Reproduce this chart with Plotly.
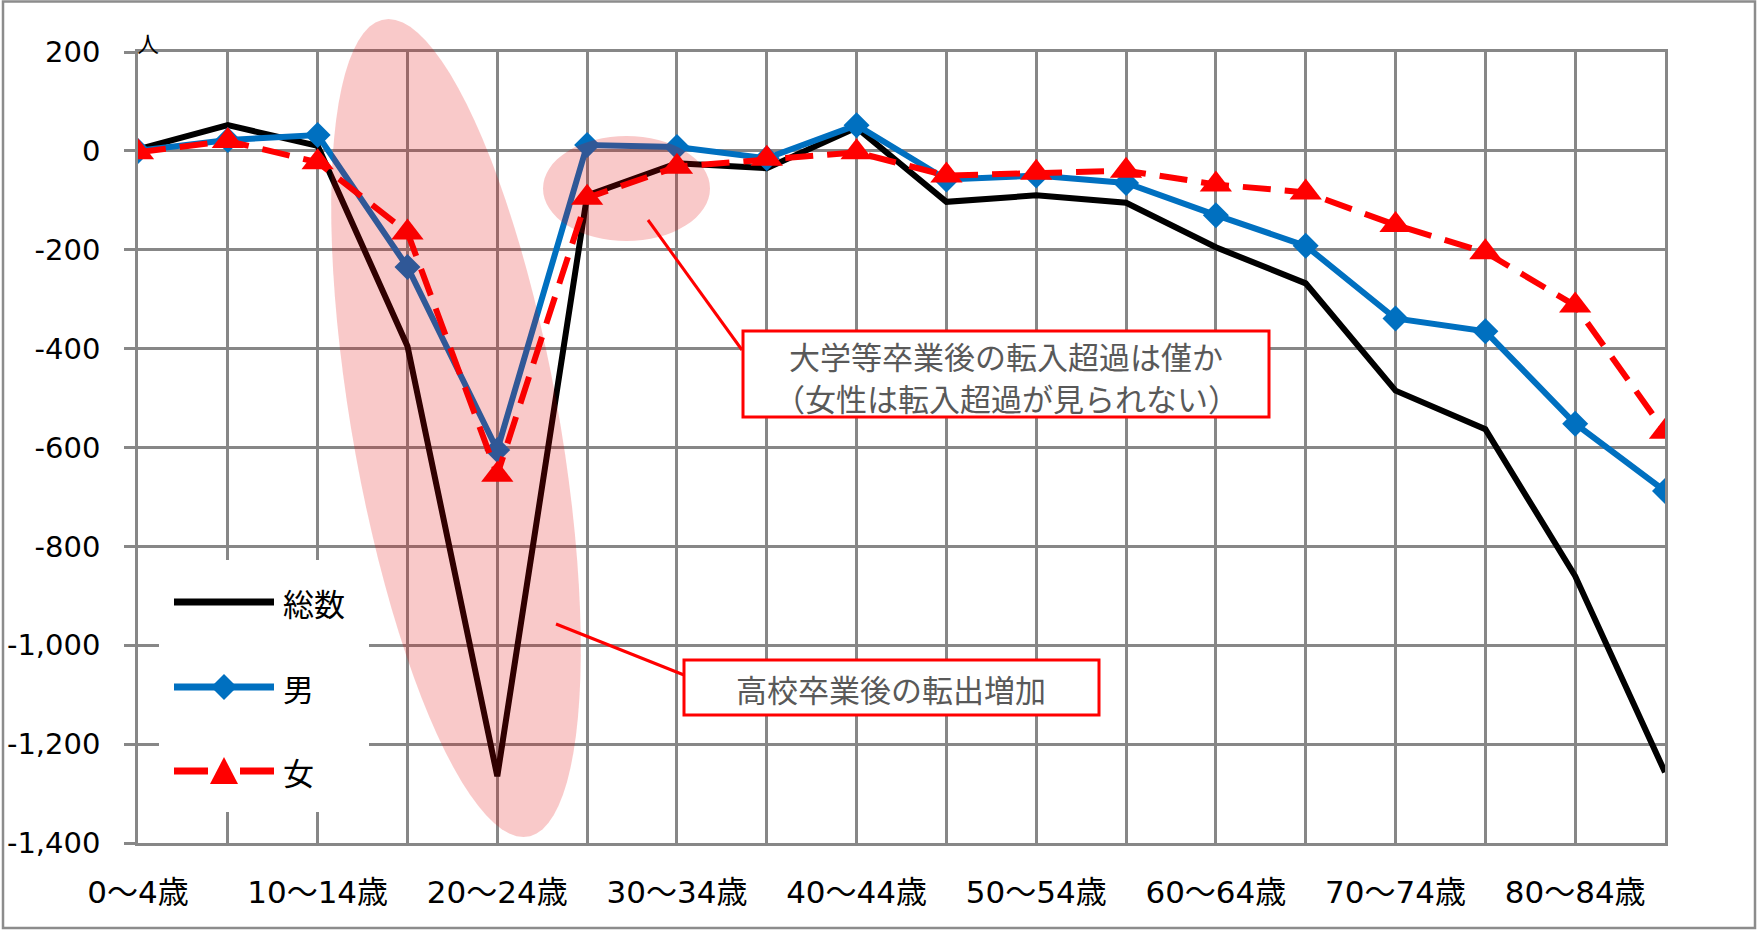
import math
import plotly.graph_objects as go

# Net migration by 5-year age group (persons)
categories = ["0～4歳", "5～9歳", "10～14歳", "15～19歳", "20～24歳", "25～29歳",
              "30～34歳", "35～39歳", "40～44歳", "45～49歳", "50～54歳", "55～59歳",
              "60～64歳", "65～69歳", "70～74歳", "75～79歳", "80～84歳", "85歳以上"]
total = [3, 52, 10, -395, -1265, -90, -25, -35, 47, -103, -90, -105,
         -195, -268, -485, -563, -860, -1257]
male = [0, 22, 32, -235, -605, 12, 8, -15, 52, -58, -50, -65,
        -130, -192, -339, -365, -552, -688]
female = [-3, 20, -23, -165, -655, -95, -32, -16, -3, -50, -44, -40,
          -68, -84, -150, -205, -313, -568]

y_ticks = [200, 0, -200, -400, -600, -800, -1000, -1200, -1400]
y_tick_labels = ["200", "0", "-200", "-400", "-600", "-800", "-1,000", "-1,200", "-1,400"]
x_tick_labels = [c if i % 2 == 0 else "" for i, c in enumerate(categories)]
series_names = ["総数", "男", "女"]

note_college = ["大学等卒業後の転入超過は僅か", "（女性は転入超過が見られない）"]
note_highschool = "高校卒業後の転出増加"
unit_label = "人"

W, H = 1758, 930
ML, MR, MT, MB = 138, 93, 52, 87
PW, PH = W - ML - MR, H - MT - MB

GRID = "#878787"
BLACK = "#000000"
BLUE = "#0070C0"
RED = "#FF0000"
PINK = "rgba(228,0,0,0.21)"
TEXT_GRAY = "#595959"
TICK_FONT = "DejaVu Sans, Noto Sans CJK JP, sans-serif"
CJK = "Noto Sans CJK JP, sans-serif"


def px(x, y):
    """Pixel position on the page -> paper coordinates."""
    return (x - ML) / PW, (MT + PH - y) / PH


def path_from_pixels(points, close=True):
    parts = []
    for i, (x, y) in enumerate(points):
        u, v = px(x, y)
        parts.append(("M" if i == 0 else "L") + f"{u:.5f},{v:.5f}")
    return " ".join(parts) + (" Z" if close else "")


x = list(range(len(categories)))

fig = go.Figure()
fig.add_trace(go.Scatter(x=x, y=total, name=series_names[0], mode="lines",
                         line=dict(color=BLACK, width=6)))
fig.add_trace(go.Scatter(x=x, y=male, name=series_names[1], mode="lines+markers",
                         line=dict(color=BLUE, width=6),
                         marker=dict(symbol="diamond", size=20, color=BLUE)))
fig.add_trace(go.Scatter(x=x, y=female, name=series_names[2], mode="lines+markers",
                         line=dict(color=RED, width=6, dash="28px,14px"),
                         marker=dict(symbol="triangle-up", size=28, color=RED)))

shapes = []

# slanted highlight around the 15-29 dip
cx, cy, hh, ww, k = 456, 428, 409, 105, 0.165
ell = []
for i in range(96):
    t = 2 * math.pi * i / 96
    ell.append((cx + k * hh * math.sin(t) + ww * math.cos(t), cy + hh * math.sin(t)))
shapes.append(dict(type="path", xref="paper", yref="paper", layer="above",
                   path=path_from_pixels(ell), fillcolor=PINK, line=dict(width=0)))

# highlight around 25-34
u0, v0 = px(543, 241)
u1, v1 = px(710, 136)
shapes.append(dict(type="circle", xref="paper", yref="paper", layer="above",
                   x0=u0, y0=v0, x1=u1, y1=v1, fillcolor=PINK, line=dict(width=0)))

# leader lines
for (xa, ya, xb, yb) in [(648, 220, 742, 350), (556, 624, 684, 675)]:
    a0, b0 = px(xa, ya)
    a1, b1 = px(xb, yb)
    shapes.append(dict(type="line", xref="paper", yref="paper", layer="above",
                       x0=a0, y0=b0, x1=a1, y1=b1, line=dict(color=RED, width=3)))

# callout boxes
for (xa, ya, xb, yb) in [(743, 331, 1269, 417), (684, 660, 1099, 715)]:
    a0, b0 = px(xa, yb)
    a1, b1 = px(xb, ya)
    shapes.append(dict(type="rect", xref="paper", yref="paper", layer="above",
                       x0=a0, y0=b0, x1=a1, y1=b1, fillcolor="white",
                       line=dict(color=RED, width=3)))

# legend panel
a0, b0 = px(159, 812)
a1, b1 = px(369, 560)
shapes.append(dict(type="rect", xref="paper", yref="paper", layer="above",
                   x0=a0, y0=b0, x1=a1, y1=b1, fillcolor="white", line=dict(width=0)))

key_x0, key_x1, key_c = 174, 274, 224
key_rows = [602, 687, 771]


def key_line(xa, xb, y, color):
    a0, b0 = px(xa, y)
    a1, b1 = px(xb, y)
    shapes.append(dict(type="line", xref="paper", yref="paper", layer="above",
                       x0=a0, y0=b0, x1=a1, y1=b1, line=dict(color=color, width=7)))


key_line(key_x0, key_x1, key_rows[0], BLACK)
key_line(key_x0, key_x1, key_rows[1], BLUE)
shapes.append(dict(type="path", xref="paper", yref="paper", layer="above",
                   path=path_from_pixels([(key_c - 13, key_rows[1]), (key_c, key_rows[1] - 13),
                                          (key_c + 13, key_rows[1]), (key_c, key_rows[1] + 13)]),
                   fillcolor=BLUE, line=dict(width=0)))
key_line(key_x0, key_x0 + 34, key_rows[2], RED)
key_line(key_x1 - 34, key_x1, key_rows[2], RED)
shapes.append(dict(type="path", xref="paper", yref="paper", layer="above",
                   path=path_from_pixels([(key_c - 14, key_rows[2] + 13), (key_c, key_rows[2] - 14),
                                          (key_c + 14, key_rows[2] + 13)]),
                   fillcolor=RED, line=dict(width=0)))

# outer frame
a0, b0 = px(3, 928)
a1, b1 = px(1755, 1.5)
shapes.append(dict(type="rect", xref="paper", yref="paper", layer="above",
                   x0=a0, y0=b0, x1=a1, y1=b1, line=dict(color="#8c8c8c", width=2.5)))

annotations = []


def text_at(x_px, y_px, text, size, color, xanchor="center", family=CJK):
    u, v = px(x_px, y_px)
    annotations.append(dict(xref="paper", yref="paper", x=u, y=v, text=text,
                            showarrow=False, xanchor=xanchor, yanchor="middle",
                            font=dict(family=family, size=size, color=color)))


text_at(1006, 355, note_college[0], 31, TEXT_GRAY)
text_at(1006, 397, note_college[1], 31, TEXT_GRAY)
text_at(891, 688, note_highschool, 31, TEXT_GRAY)
for name, yrow in zip(series_names, key_rows):
    text_at(281, yrow, name, 31, BLACK, xanchor="left")
text_at(148, 42, unit_label, 22, BLACK)

fig.update_layout(
    width=W, height=H,
    margin=dict(l=ML, r=MR, t=MT, b=MB, autoexpand=False),
    paper_bgcolor="white", plot_bgcolor="white",
    showlegend=False,
    font=dict(family=TICK_FONT, size=29, color=BLACK),
    shapes=shapes, annotations=annotations,
)
fig.update_xaxes(range=[0, len(categories) - 1], tickmode="array", tickvals=x,
                 ticktext=x_tick_labels, showgrid=True, gridcolor=GRID, gridwidth=2.5,
                 showline=True, linecolor=GRID, linewidth=2.5, mirror=True,
                 ticks="", zeroline=False, ticklabelstandoff=20, automargin=False,
                 tickfont=dict(family=TICK_FONT, size=31, color=BLACK))
fig.update_yaxes(range=[-1400, 200], tickmode="array", tickvals=y_ticks,
                 ticktext=y_tick_labels, showgrid=True, gridcolor=GRID, gridwidth=2.5,
                 showline=True, linecolor=GRID, linewidth=2.5, mirror=True,
                 ticks="outside", ticklen=11, tickwidth=2.5, tickcolor=GRID,
                 zeroline=False, ticklabelstandoff=18, automargin=False,
                 tickfont=dict(family=TICK_FONT, size=29, color=BLACK))

fig.write_html("out.html")
